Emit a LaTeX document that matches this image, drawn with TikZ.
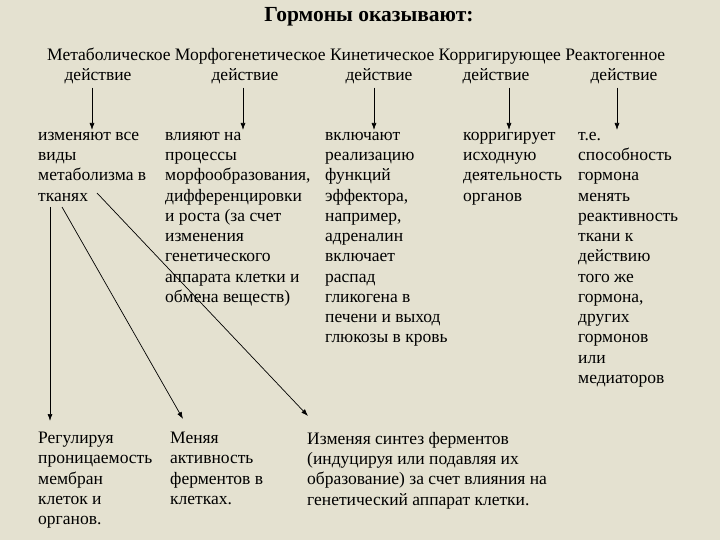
\documentclass[tikz,border=0pt]{standalone}
\usepackage{fontspec}
\setmainfont{Liberation Serif}
\usetikzlibrary{arrows.meta, positioning}
\definecolor{bgpaper}{RGB}{228,225,208}

\begin{document}
\begin{tikzpicture}[x=1pt, y=-1pt,
  txt/.style={anchor=north west, align=left, inner sep=0pt, execute at begin node=\strut,
              font=\fontsize{17.5}{20.25}\selectfont},
  hd/.style={anchor=base, inner sep=0pt, font=\fontsize{17.5}{20.25}\selectfont},
  ttl/.style={anchor=base, inner sep=0pt, font=\fontsize{21.5}{24}\selectfont\bfseries},
  arr/.style={-{Latex[length=7pt,width=5pt]}, line width=0.7pt}
]
\fill[bgpaper] (0,0) rectangle (720,540);
\useasboundingbox (0,0) rectangle (720,540);

\node[ttl] (title) at (369,22) {Гормоны оказывают:};
\node[hd, anchor=base west] (hdr) at (47,61)
  {Метаболическое Морфогенетическое Кинетическое Корригирующее Реактогенное};

\node[hd] (d1) at (98,81) {действие};
\node[hd] (d2) at (245,81) {действие};
\node[hd] (d3) at (379,81) {действие};
\node[hd] (d4) at (496,81) {действие};
\node[hd] (d5) at (624,81) {действие};

\node[txt] (c1) at (38,132) {изменяют все\\виды\\метаболизма в\\тканях};
\node[txt] (c2) at (165,132) {влияют на\\процессы\\морфообразования,\\дифференцировки\\и роста (за счет\\изменения\\генетического\\аппарата клетки и\\обмена веществ)};
\node[txt] (c3) at (325,132) {включают\\реализацию\\функций\\эффектора,\\например,\\адреналин\\включает\\распад\\гликогена в\\печени и выход\\глюкозы в кровь};
\node[txt] (c4) at (463,132) {корригирует\\исходную\\деятельность\\органов};
\node[txt] (c5) at (578,132) {т.е.\\способность\\гормона\\менять\\реактивность\\ткани к\\действию\\того же\\гормона,\\других\\гормонов\\или\\медиаторов};

\node[txt] (b1) at (38,432) {Регулируя\\проницаемость\\мембран\\клеток и\\органов.};
\node[txt] (b2) at (170,432) {Меняя\\активность\\ферментов в\\клетках.};
\node[txt] (b3) at (307,432) {Изменяя синтез ферментов\\(индуцируя или подавляя их\\образование) за счет влияния на\\генетический аппарат клетки.};

\foreach \i/\dx in {1/-6,2/-2,3/-5,4/13,5/-7}
  \draw[arr, shorten >=2pt] ([xshift=\dx pt, yshift=-3pt]d\i.south) -- ([xshift=\dx pt]d\i.south |- c\i.north);

\draw[arr] ([shift={(12,75)}]c1.north west) -- ([shift={(12,-11)}]b1.north west);
\draw[arr] ([shift={(24,75)}]c1.north west) -- ([shift={(13,-13)}]b2.north west);
\draw[arr] ([shift={(59,61)}]c1.north west) -- ([shift={(1,-16)}]b3.north west);
\end{tikzpicture}
\end{document}
